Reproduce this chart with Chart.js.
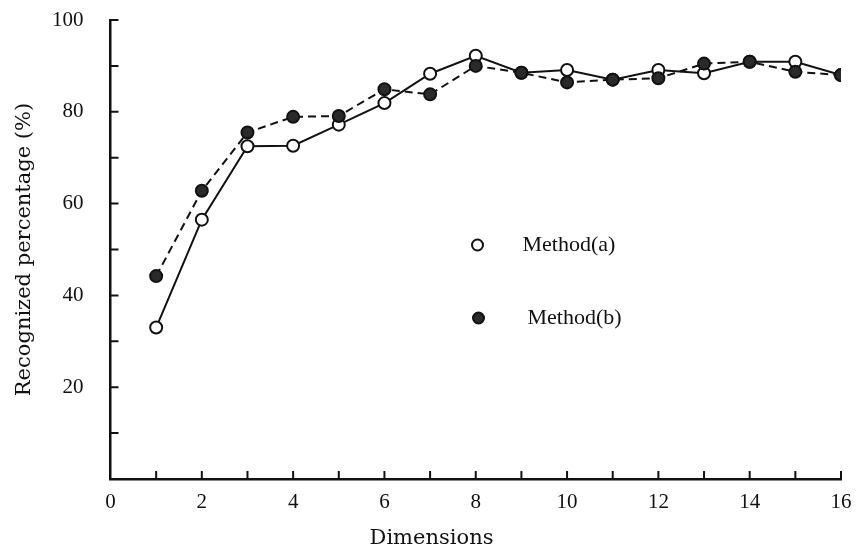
<!DOCTYPE html>
<html>
<head>
<meta charset="utf-8">
<script src="https://cdn.jsdelivr.net/npm/chart.js@4.4.1/dist/chart.umd.min.js"></script>
<style>
  html, body { margin: 0; padding: 0; background: #fff; }
  #wrap { width: 863px; height: 557px; }
</style>
</head>
<body>
<div id="wrap"><canvas id="myChart"></canvas></div>
<script>
// values
var dimensions = [1, 2, 3, 4, 5, 6, 7, 8, 9, 10, 11, 12, 13, 14, 15, 16];
var methodA = [33, 56.5, 72.5, 72.6, 77.2, 81.9, 88.3, 92.2, 88.5, 89.1, 87, 89.1, 88.4, 90.9, 90.9, 88];
var methodB = [44.2, 62.8, 75.5, 78.9, 79.1, 84.9, 83.8, 90, 88.5, 86.4, 87, 87.3, 90.5, 90.9, 88.7, 88];
var xTickLabels = [0, 2, 4, 6, 8, 10, 12, 14, 16];
var yTickLabels = [20, 40, 60, 80, 100];

var ink = '#111';
var serif = 'Liberation Serif';

function toPoints(values) {
  return dimensions.map(function (d, i) { return { x: d, y: values[i] }; });
}

// small inward tick marks, like the printed figure
var inwardTicks = {
  id: 'inwardTicks',
  beforeDatasetsDraw: function (chart) {
    var ctx = chart.ctx, area = chart.chartArea;
    var xs = chart.scales.x, ys = chart.scales.y;
    ctx.save();
    ctx.strokeStyle = ink;
    ctx.lineWidth = 2;
    ctx.beginPath();
    ys.ticks.forEach(function (t) {
      if (t.value === 0) return;
      var py = ys.getPixelForValue(t.value);
      ctx.moveTo(area.left, py);
      ctx.lineTo(area.left + 8, py);
    });
    xs.ticks.forEach(function (t) {
      if (t.value === 0) return;
      var px = xs.getPixelForValue(t.value);
      ctx.moveTo(px, area.bottom);
      ctx.lineTo(px, area.bottom - 8);
    });
    ctx.stroke();
    ctx.restore();
  }
};

// legend sits inside the plot, markers only
var insideLegend = {
  id: 'insideLegend',
  afterDraw: function (chart) {
    var ctx = chart.ctx, area = chart.chartArea;
    var spots = [
      { mx: area.left + 367, tx: area.left + 412, y: area.top + 225 },
      { mx: area.left + 368, tx: area.left + 417, y: area.top + 298 }
    ];
    ctx.save();
    chart.data.datasets.forEach(function (ds, i) {
      var s = spots[i];
      ctx.beginPath();
      ctx.arc(s.mx, s.y, 5.5, 0, Math.PI * 2);
      ctx.fillStyle = ds.pointBackgroundColor;
      ctx.fill();
      ctx.lineWidth = 2;
      ctx.strokeStyle = ink;
      ctx.stroke();
      ctx.fillStyle = ink;
      ctx.font = '22px "' + serif + '"';
      ctx.textBaseline = 'middle';
      ctx.fillText(ds.label, s.tx, s.y);
    });
    ctx.restore();
  }
};

var ctx = document.getElementById('myChart').getContext('2d');
var myChart = new Chart(ctx, {
  type: 'line',
  data: {
    datasets: [{
      label: 'Method(a)',
      data: toPoints(methodA),
      borderColor: ink,
      borderWidth: 2,
      pointRadius: 6,
      pointBorderWidth: 2,
      pointBorderColor: ink,
      pointBackgroundColor: '#fff',
      order: 1
    }, {
      label: 'Method(b)',
      data: toPoints(methodB),
      borderColor: ink,
      borderWidth: 2,
      borderDash: [8, 5],
      pointRadius: 6,
      pointBorderWidth: 2,
      pointBorderColor: ink,
      pointBackgroundColor: '#2a2a2a',
      order: 0
    }]
  },
  options: {
    responsive: true,
    maintainAspectRatio: false,
    animation: false,
    layout: { padding: { left: 0, top: 20, right: 0, bottom: 0 } },
    plugins: {
      legend: { display: false },
      tooltip: { enabled: false },
      title: {
        display: true,
        position: 'bottom',
        text: 'Dimensions',
        color: ink,
        font: { family: 'DejaVu Serif', size: 21, weight: 'normal' },
        padding: { top: 0, bottom: 6 }
      }
    },
    scales: {
      x: {
        type: 'linear',
        min: 0,
        max: 16,
        grid: { display: false, tickLength: 11 },
        border: { display: true, color: ink, width: 2.5 },
        ticks: {
          stepSize: 1,
          autoSkip: false,
          maxRotation: 0,
          padding: 0,
          color: ink,
          font: { family: serif, size: 21 },
          callback: function (v) { return xTickLabels.indexOf(v) >= 0 ? String(v) : ''; }
        },
        afterFit: function (scale) { scale.height = 46.8; }
      },
      y: {
        min: 0,
        max: 100,
        grid: { display: false, tickLength: 27 },
        border: { display: true, color: ink, width: 2.5 },
        title: {
          display: true,
          text: 'Recognized percentage (%)',
          color: ink,
          font: { family: 'DejaVu Serif', size: 21, weight: 'normal' },
          padding: { top: 12, bottom: 0 }
        },
        ticks: {
          stepSize: 10,
          autoSkip: false,
          padding: 0,
          color: ink,
          font: { family: serif, size: 21 },
          callback: function (v) { return yTickLabels.indexOf(v) >= 0 ? String(v) : ''; }
        },
        afterFit: function (scale) { scale.width = 110.5; }
      },
      // empty right margin, so the title centres on the whole figure
      side: {
        position: 'right',
        min: 0,
        max: 100,
        grid: { display: false },
        border: { display: false },
        ticks: { display: false },
        afterFit: function (scale) { scale.width = 22; }
      }
    }
  },
  plugins: [inwardTicks, insideLegend]
});
</script>
</body>
</html>
